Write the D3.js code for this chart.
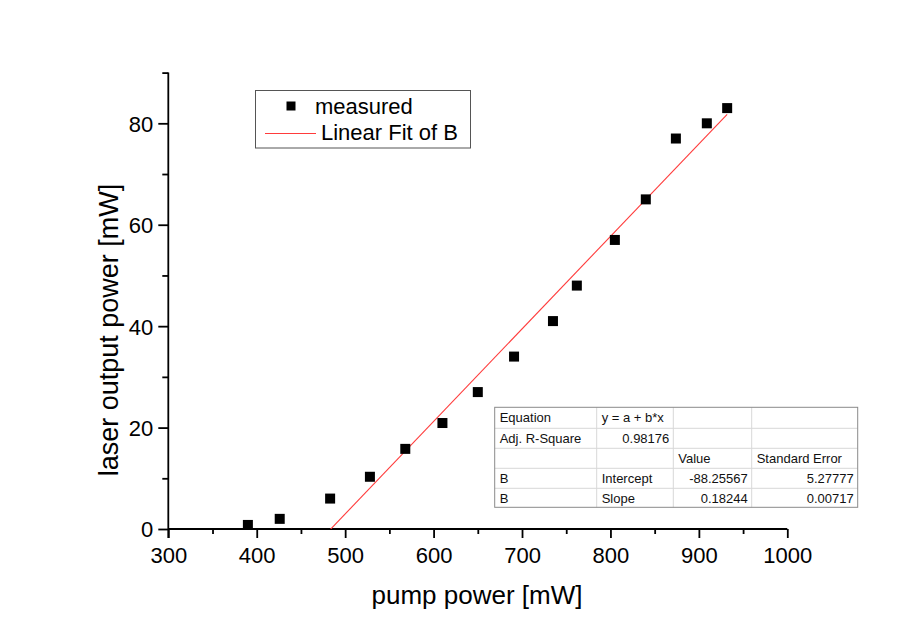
<!DOCTYPE html>
<html>
<head>
<meta charset="utf-8">
<script src="https://cdn.jsdelivr.net/npm/d3@7"></script>
<style>
  html, body { margin: 0; padding: 0; background: #fff; }
  svg { display: block; font-family: "Liberation Sans", Arial, sans-serif; }
</style>
</head>
<body>
<svg id="chart" width="898" height="628"></svg>
<script>
// ---- data ----
const pumpPower = [390, 426, 483, 528, 568, 610, 650, 691, 735, 762, 805, 840, 874, 909, 932];
const laserPower = [0.8, 2.0, 6.0, 10.3, 15.8, 20.9, 27.0, 34.0, 41.0, 48.0, 57.0, 65.0, 77.0, 80.0, 83.0];
const fitIntercept = -88.25567;
const fitSlope = 0.18244;
const xTicks = [300, 400, 500, 600, 700, 800, 900, 1000];
const yTicks = [0, 20, 40, 60, 80];
const legendLabels = ["measured", "Linear Fit of B"];
const xTitle = "pump power [mW]";
const yTitle = "laser output power [mW]";
const tableRows = [
  ["Equation", "y = a + b*x", "", ""],
  ["Adj. R-Square", "0.98176", "", ""],
  ["", "", "Value", "Standard Error"],
  ["B", "Intercept", "-88.25567", "5.27777"],
  ["B", "Slope", "0.18244", "0.00717"]
];

// ---- layout ----
const svg = d3.select("#chart");
const x = d3.scaleLinear().domain([300, 1000]).range([168.3, 787.3]);
const y = d3.scaleLinear().domain([0, 90]).range([529, 72.6]);

// clip
svg.append("clipPath").attr("id", "plotclip").append("rect")
  .attr("x", x(300)).attr("y", y(90)).attr("width", x(1000) - x(300)).attr("height", y(0) - y(90));

// axes
const xAxis = d3.axisBottom(x).tickValues(d3.range(300, 1001, 50)).tickSizeOuter(0)
  .tickFormat(d => xTicks.includes(d) ? d : "");
const gx = svg.append("g").attr("transform", `translate(0,${y(0)})`).call(xAxis);
gx.select(".domain").attr("stroke", "#000").attr("stroke-width", 1.8).attr("d", `M${x(300)},0H${x(1000)}`);
gx.selectAll(".tick line").attr("stroke", "#000").attr("stroke-width", 1.8)
  .attr("y2", d => xTicks.includes(d) ? 9 : 5);
gx.selectAll(".tick text").attr("font-size", 22).attr("fill", "#000").attr("y", 18).attr("dy", "0.71em")
  .attr("font-family", "Liberation Sans, Arial, sans-serif");

const yAxis = d3.axisLeft(y).tickValues(d3.range(0, 91, 10)).tickSizeOuter(0)
  .tickFormat(d => yTicks.includes(d) ? d : "");
const gy = svg.append("g").attr("transform", `translate(${x(300)},0)`).call(yAxis);
gy.select(".domain").attr("stroke", "#000").attr("stroke-width", 1.8).attr("d", `M0,${y(90)}V${y(0) + 9}`);
gy.selectAll(".tick line").attr("stroke", "#000").attr("stroke-width", 1.8)
  .attr("x2", d => yTicks.includes(d) ? -10 : -6);
gy.selectAll(".tick text").attr("font-size", 22).attr("fill", "#000").attr("x", -15).attr("dy", "0.36em")
  .attr("font-family", "Liberation Sans, Arial, sans-serif");

// axis titles
svg.append("text").attr("x", 477).attr("y", 604).attr("text-anchor", "middle")
  .attr("font-size", 26).attr("fill", "#000").text(xTitle);
svg.append("text").attr("transform", "translate(118,330) rotate(-90)").attr("text-anchor", "middle")
  .attr("font-size", 27).attr("fill", "#000").text(yTitle);

// fit line
const fitLine = d3.line().x(d => x(d)).y(d => y(fitIntercept + fitSlope * d));
svg.append("path").attr("clip-path", "url(#plotclip)")
  .attr("d", fitLine([d3.min(pumpPower), d3.max(pumpPower)]))
  .attr("fill", "none").attr("stroke", "#ff3b3b").attr("stroke-width", 1.1);

// points
const ms = 10;
svg.append("g").selectAll("rect").data(pumpPower).join("rect")
  .attr("x", (d) => x(d) - ms / 2).attr("y", (d, i) => y(laserPower[i]) - ms / 2)
  .attr("width", ms).attr("height", ms).attr("fill", "#000");

// legend
const lg = svg.append("g");
lg.append("rect").attr("x", 255.5).attr("y", 90.5).attr("width", 215).attr("height", 57.5)
  .attr("fill", "#fff").attr("stroke", "#555").attr("stroke-width", 1);
lg.append("rect").attr("x", 291 - 4.5).attr("y", 106 - 4.5).attr("width", 9).attr("height", 9).attr("fill", "#000");
lg.append("line").attr("x1", 265).attr("x2", 316).attr("y1", 133.5).attr("y2", 133.5)
  .attr("stroke", "#ff3b3b").attr("stroke-width", 1);
lg.selectAll("text").data(legendLabels).join("text")
  .attr("x", (d, i) => i === 0 ? 315 : 321).attr("y", (d, i) => i === 0 ? 113.5 : 140)
  .attr("font-size", 22).attr("fill", "#000").text(d => d);

// table
const colX = [494.7, 596.7, 673.3, 751.7, 857.7];
const rowY = [407.3, 428.3, 448.3, 468.3, 488.3, 507.3];
const tg = svg.append("g");
tg.append("rect").attr("x", colX[0]).attr("y", rowY[0]).attr("width", colX[4] - colX[0]).attr("height", rowY[5] - rowY[0])
  .attr("fill", "#fff");
for (let i = 1; i < 5; i++) {
  tg.append("line").attr("x1", colX[0]).attr("x2", colX[4]).attr("y1", rowY[i]).attr("y2", rowY[i])
    .attr("stroke", "#d8d8d8").attr("stroke-width", 1);
}
for (let j = 1; j < 4; j++) {
  tg.append("line").attr("x1", colX[j]).attr("x2", colX[j]).attr("y1", rowY[0]).attr("y2", rowY[5])
    .attr("stroke", "#d8d8d8").attr("stroke-width", 1);
}
tg.append("rect").attr("x", colX[0]).attr("y", rowY[0]).attr("width", colX[4] - colX[0]).attr("height", rowY[5] - rowY[0])
  .attr("fill", "none").attr("stroke", "#8a8a8a").attr("stroke-width", 1);
const rightAligned = (r, c) => (r === 1 && c === 1) || (r >= 3 && c >= 2);
tableRows.forEach((row, r) => {
  row.forEach((txt, c) => {
    if (!txt) return;
    const ra = rightAligned(r, c);
    tg.append("text")
      .attr("x", ra ? colX[c + 1] - 4 : colX[c] + 5)
      .attr("y", rowY[r] + 15)
      .attr("text-anchor", ra ? "end" : "start")
      .attr("font-size", 13).attr("fill", "#111").text(txt);
  });
});
</script>
</body>
</html>
